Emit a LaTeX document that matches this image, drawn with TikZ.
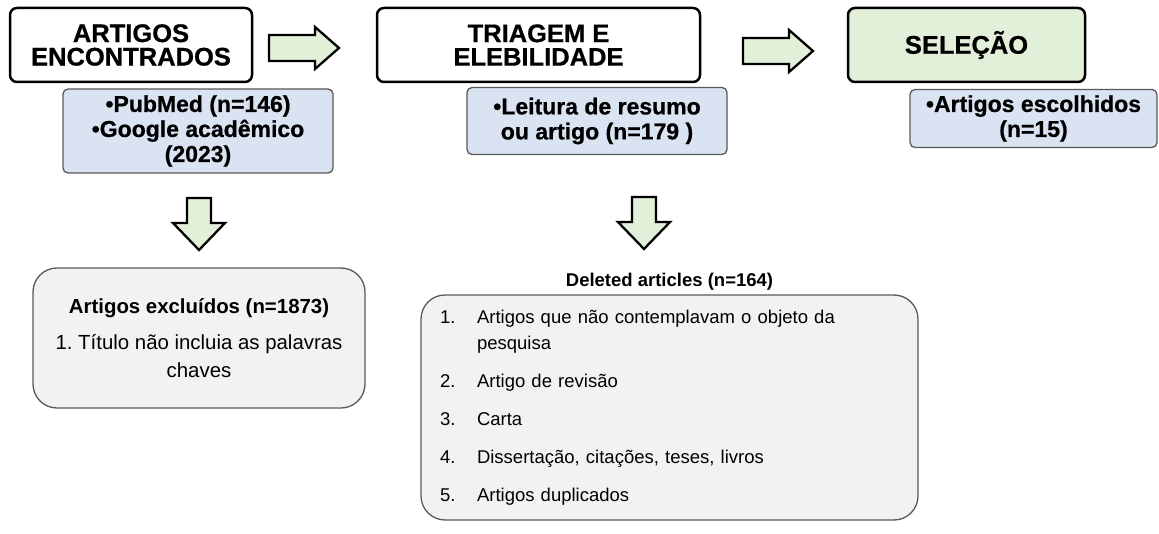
\documentclass[tikz,border=0pt]{standalone}
\usepackage{fontspec}
\setmainfont{Liberation Sans}
\newfontfamily\heavyfont{Liberation Sans}[BoldFeatures={FakeBold=0.7}]
\usepackage{tikz}
\usetikzlibrary{positioning}
\frenchspacing
\definecolor{mgreen}{rgb}{0.89, 0.94, 0.85}
\definecolor{mblue}{rgb}{0.85, 0.89, 0.95}
\definecolor{mgray}{rgb}{0.95, 0.95, 0.95}
\definecolor{mline}{rgb}{0.35, 0.35, 0.35}
\tikzset{titlebox/.style = {draw, line width = 2.5pt, rounded corners = 7pt,
                            minimum height = 74pt, align = center, inner sep = 0,
                            font = \fontsize{25.5}{23.5}\selectfont\heavyfont\bfseries}}
\tikzset{infobox/.style = {draw = mline, fill = mblue, line width = 1.3pt,
                           rounded corners = 5pt, align = center, inner sep = 0,
                           font = \fontsize{23}{25}\selectfont\heavyfont\bfseries}}
\tikzset{exclbox/.style = {draw = mline, fill = mgray, line width = 1.3pt,
                           rounded corners = 24pt, inner sep = 0}}
\tikzset{blockarrow/.style = {draw, fill = mgreen, line width = 2.3pt, line join = miter}}

\begin{document}
\begin{tikzpicture}[x = 1pt, y = -1pt]
    \useasboundingbox (0, 0) rectangle (1159, 534);

    \node [titlebox, minimum width = 242pt] (found) at (131, 45) {ARTIGOS\\ENCONTRADOS};
    \node [titlebox, minimum width = 323pt] (screen) at (538.5, 45) {TRIAGEM E\\ELEBILIDADE};
    \node [titlebox, fill = mgreen, minimum width = 237pt] (select) at (966.5, 45) {SELEÇÃO};

    \node [infobox, minimum width = 270pt, minimum height = 84pt] (foundinfo) at (198, 131)
        {•PubMed (n=146)\\•Google acadêmico\\(2023)};
    \node [infobox, minimum width = 260pt, minimum height = 67pt] (screeninfo) at (597, 121)
        {•Leitura de resumo\\ ou artigo (n=179 )};
    \node [infobox, minimum width = 247pt, minimum height = 58pt] (selectinfo) at (1033.5, 118.5)
        {•Artigos escolhidos\\(n=15)};

    \node [exclbox, minimum width = 332pt, minimum height = 140pt, align = center,
           font = \fontsize{20.4}{28}\selectfont] (excl) at (199, 338)
        {\textbf{Artigos excluídos (n=1873)}\\[8pt]1. Título não incluia as palavras\\chaves};

    \node [exclbox, minimum width = 497pt, minimum height = 225pt, text width = 459pt,
           align = left, font = \fontsize{18.5}{26}\selectfont] (del) at (669.5, 407.5)
        {\begin{tabular}{@{}p{37pt}@{}l@{}}
           1. & Artigos que não contemplavam o objeto da\\
              & pesquisa\\[12pt]
           2. & Artigo de revisão\\[12pt]
           3. & Carta\\[12pt]
           4. & Dissertação, citações, teses, livros\\[12pt]
           5. & Artigos duplicados
         \end{tabular}};
    \node [above = 4pt of del, inner sep = 0, font = \fontsize{18.5}{22}\selectfont\bfseries]
        (delhead) {Deleted articles (n=164)};

    \foreach \x/\y in {269/35, 743/38} {
      \draw [blockarrow, shift = {(\x, \y)}] (0, 0) -- (46, 0) -- (46, -8) -- (70, 13)
          -- (46, 34) -- (46, 26) -- (0, 26) -- cycle;
    }
    \foreach \x/\y in {187/198, 632/197} {
      \draw [blockarrow, shift = {(\x, \y)}] (0, 0) -- (24, 0) -- (24, 25) -- (38, 25)
          -- (12, 52) -- (-14, 25) -- (0, 25) -- cycle;
    }
\end{tikzpicture}
\end{document}
